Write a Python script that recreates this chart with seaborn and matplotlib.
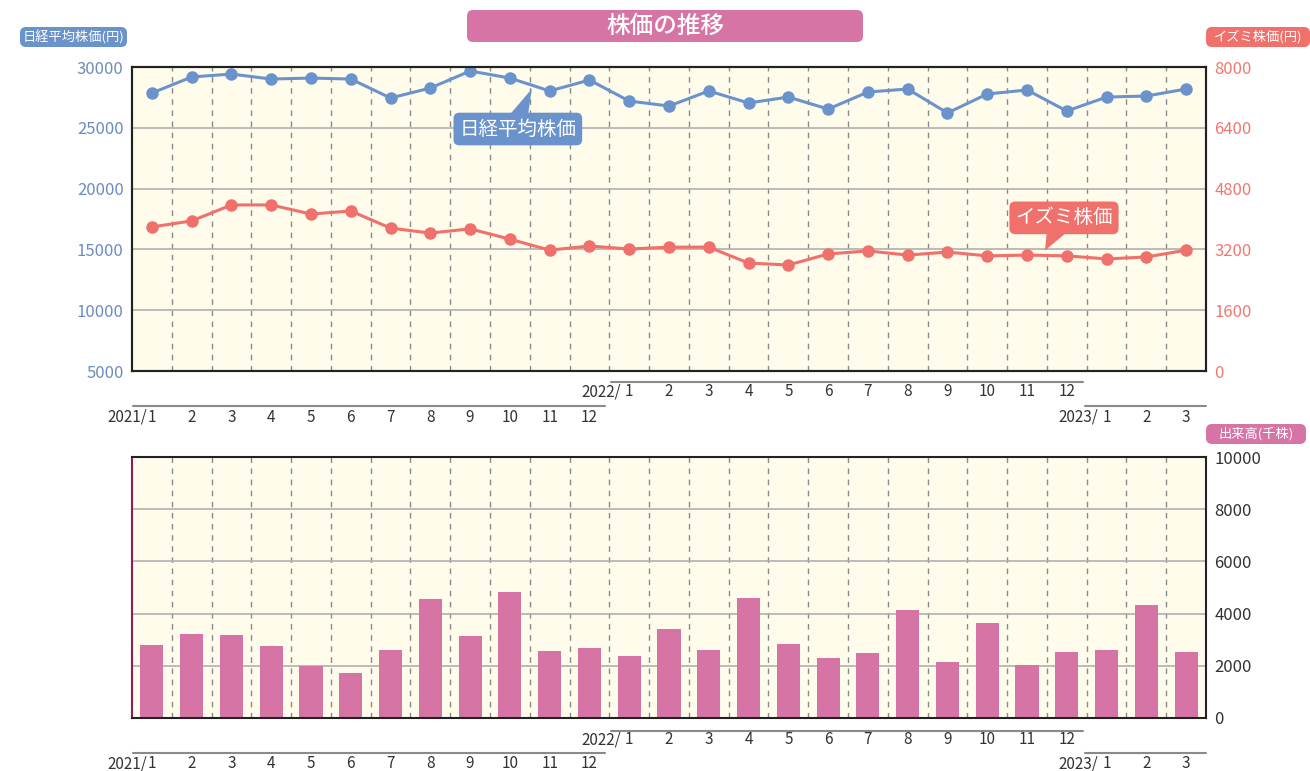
import numpy as np
import pandas as pd
import matplotlib
matplotlib.use("Agg")
import matplotlib.pyplot as plt
import seaborn as sns
from matplotlib.patches import FancyBboxPatch, Polygon
from matplotlib.transforms import blended_transform_factory

# ---------------- data ----------------
years = ["2021"] * 12 + ["2022"] * 12 + ["2023"] * 3
months = list(range(1, 13)) + list(range(1, 13)) + [1, 2, 3]
nikkei = [27860, 29180, 29420, 29010, 29090, 29010, 27450, 28270, 29670, 29090, 28030, 28930,
          27200, 26790, 28030, 27040, 27530, 26540, 27940, 28190, 26220, 27780, 28110, 26380,
          27530, 27610, 28190]
izumi = [3790, 3950, 4370, 4370, 4130, 4210, 3760, 3630, 3740, 3470, 3180, 3290,
         3210, 3260, 3260, 2840, 2790, 3080, 3160, 3050, 3130, 3030, 3050, 3030,
         2950, 3000, 3180]
volume = [2800, 3220, 3180, 2760, 1990, 1720, 2600, 4560, 3140, 4830, 2570, 2680,
          2380, 3410, 2600, 4600, 2840, 2300, 2490, 4140, 2150, 3640, 2030, 2530,
          2600, 4330, 2530]

df = pd.DataFrame({"idx": np.arange(len(months)), "year": years, "month": months,
                   "nikkei": nikkei, "izumi": izumi, "volume": volume})

# ---------------- style ----------------
sns.set_theme(style="white")
plt.rcParams["font.family"] = ["Noto Sans CJK JP", "DejaVu Sans"]

BLUE = "#6a93cc"
RED = "#f0706b"
PINK = "#d675a5"
BG = "#fffcec"
BLUE_TXT = "#6a8cc2"
RED_TXT = "#f2786f"
DARK = "#333333"

W, H = 1310, 771
fig = plt.figure(figsize=(W / 100, H / 100), dpi=100)


def px_rect(x0, y0, x1, y1):
    return [x0 / W, 1 - y1 / H, (x1 - x0) / W, (y1 - y0) / H]


ax = fig.add_axes(px_rect(132, 67, 1206, 371))
axb = fig.add_axes(px_rect(132, 457, 1206, 718))
n = len(months)


def style_panel(a, yticks):
    a.set_facecolor(BG)
    a.set_xlim(-0.5, n - 0.5)
    for b in np.arange(0.5, n - 0.5, 1.0):
        a.axvline(b, color="#8a8a8a", lw=1.0, ls=(0, (4, 4)), zorder=0.5)
    for t in yticks[1:-1]:
        a.axhline(t, color="#b0b0b0", lw=1.2, zorder=0.6)
    a.set_xticks([])
    a.set_xlabel("")
    a.set_ylabel("")
    for s in a.spines.values():
        s.set_color("#222222")
        s.set_linewidth(1.5)
        s.set_zorder(10)


# ---------------- top panel ----------------
left_ticks = [5000, 10000, 15000, 20000, 25000, 30000]
style_panel(ax, left_ticks)
sns.lineplot(data=df, x="idx", y="nikkei", ax=ax, color=BLUE, marker="o", markersize=9,
             markeredgewidth=0, linewidth=2.2, zorder=3)
ax.set_ylim(5000, 30000)
ax.set_yticks(left_ticks)
ax.set_xticks([])
ax.set_xlabel("")
ax.set_ylabel("")
ax.tick_params(axis="y", length=0, labelsize=12, labelcolor=BLUE_TXT, pad=6)

ax2 = ax.twinx()
sns.lineplot(data=df, x="idx", y="izumi", ax=ax2, color=RED, marker="o", markersize=9,
             markeredgewidth=0, linewidth=2.2, zorder=3)
ax2.set_ylim(0, 8000)
ax2.set_yticks([0, 1600, 3200, 4800, 6400, 8000])
ax2.set_xlim(-0.5, n - 0.5)
ax2.set_ylabel("")
ax2.set_xlabel("")
ax2.set_xticks([])
ax2.tick_params(axis="y", length=0, labelsize=12, labelcolor=RED_TXT, pad=6)
for s in ax2.spines.values():
    s.set_color("#222222")
    s.set_linewidth(1.5)

# callouts
ax.text(9.2, 24900, "日経平均株価", color="white", fontsize=14, ha="center", va="center",
        zorder=6, bbox=dict(boxstyle="round,pad=0.3,rounding_size=0.3", fc=BLUE, ec="none"))
ax.add_patch(Polygon([[8.95, 25900], [9.45, 25900], [9.55, 28200]], closed=True,
                     fc=BLUE, ec="none", zorder=5))
ax2.text(22.93, 4030, "イズミ株価", color="white", fontsize=14, ha="center", va="center",
         zorder=6, bbox=dict(boxstyle="round,pad=0.3,rounding_size=0.3", fc=RED, ec="none"))
ax2.add_patch(Polygon([[22.5, 3650], [23.0, 3650], [22.45, 3170]], closed=True,
                      fc=RED, ec="none", zorder=5))

# ---------------- bottom panel ----------------
bticks = [0, 2000, 4000, 6000, 8000, 10000]
style_panel(axb, bticks)
sns.barplot(data=df, x="idx", y="volume", ax=axb, color=PINK, width=0.58, saturation=1,
            linewidth=0, edgecolor="none", zorder=3)
axb.set_xlim(-0.5, n - 0.5)
axb.set_ylim(0, 10000)
axb.set_yticks(bticks)
axb.yaxis.tick_right()
axb.set_xticks([])
axb.set_xlabel("")
axb.set_ylabel("")
axb.tick_params(axis="y", length=0, labelsize=12, labelcolor=DARK, pad=6)
axb.spines["left"].set_color("#8a1f52")

# ---------------- category labels ----------------
def draw_labels(a, y_hi, y_lo, line_hi, line_lo):
    tr = blended_transform_factory(a.transData, fig.transFigure)
    fy = lambda p: 1 - p / H
    rows = {"2021": (y_lo, line_lo, -0.48, 11.4), "2022": (y_hi, line_hi, 11.55, 23.4),
            "2023": (y_lo, line_lo, 23.45, 26.5)}
    for yr, (ty, ly, x0, x1) in rows.items():
        a.plot([x0, x1], [fy(ly), fy(ly)], transform=tr, color="#8a8a8a", lw=1.5,
               clip_on=False)
    for i, (yr, m) in enumerate(zip(years, months)):
        ty = rows[yr][0]
        a.text(i, fy(ty), str(m), transform=tr, ha="center", va="center", fontsize=11,
               color=DARK)
        if m == 1:
            prefix = yr + "/"
            off = 0.13 if yr == "2021" else 0.2
            a.text(i - off, fy(ty), prefix, transform=tr, ha="right", va="center",
                   fontsize=11, color=DARK)


draw_labels(ax, 392, 417, 382, 406)
draw_labels(axb, 740, 764, 731, 753)

# ---------------- boxes (title, axis labels) ----------------
def px_box(x0, y0, x1, y1, color, text, size, weight="normal"):
    p = FancyBboxPatch((x0 / 100, (H - y1) / 100), (x1 - x0) / 100, (y1 - y0) / 100,
                       boxstyle="round,pad=0,rounding_size=0.06",
                       transform=fig.dpi_scale_trans, fc=color, ec="none")
    fig.patches.append(p)
    fig.text((x0 + x1) / 2 / W, 1 - (y0 + y1) / 2 / H, text, ha="center", va="center",
             color="white", fontsize=size, fontweight=weight)


px_box(467, 10, 863, 42, PINK, "株価の推移", 17, "medium")
px_box(20, 27, 127, 47, BLUE, "日経平均株価(円)", 9.5)
px_box(1206, 27, 1310, 47, RED, "イズミ株価(円)", 9.5)
px_box(1206, 424, 1306, 444, PINK, "出来高(千株)", 9.5)

fig.savefig("out.png", dpi=100, facecolor="white")
